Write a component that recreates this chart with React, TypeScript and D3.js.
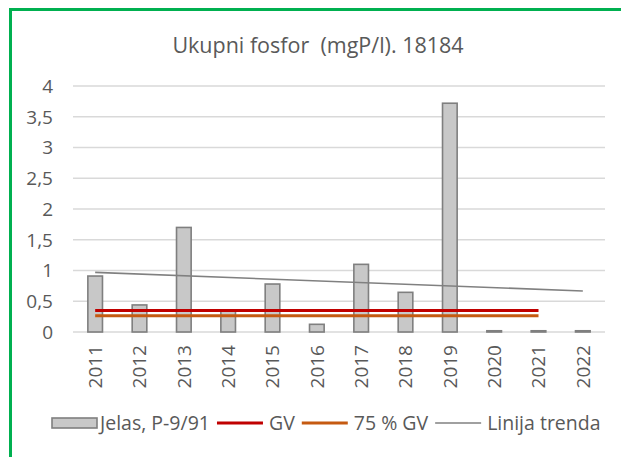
import React, { useRef, useEffect } from "react";
import * as d3 from "d3";

// data
const years = ["2011", "2012", "2013", "2014", "2015", "2016", "2017", "2018", "2019", "2020", "2021", "2022"];
const jelas = [0.91, 0.44, 1.7, 0.34, 0.78, 0.125, 1.1, 0.645, 3.72, 0.02, 0.02, 0.02];
const gvYears = ["2011", "2012", "2013", "2014", "2015", "2016", "2017", "2018", "2019", "2020", "2021"];
const gv = 0.35;
const gv75 = 0.2625;
const yTicks = [0, 0.5, 1, 1.5, 2, 2.5, 3, 3.5, 4];
const title = "Ukupni fosfor  (mgP/l). 18184";
const legendLabels = ["Jelas, P-9/91", "GV", "75 % GV", "Linija trenda"];

const FONT = "'Open Sans', sans-serif";
const TEXT = "#595959";

export default function App() {
  const ref = useRef<SVGSVGElement>(null);

  useEffect(() => {
    const svg = d3.select(ref.current);
    svg.selectAll("*").remove();

    const margin = { top: 86, left: 73, right: 16, bottom: 125 };
    const W = 621, H = 457;

    // green frame
    svg.append("rect")
      .attr("x", 10.5).attr("y", 9.5)
      .attr("width", 700).attr("height", 600)
      .attr("fill", "white")
      .attr("stroke", "#00b050").attr("stroke-width", 3);

    svg.append("text")
      .attr("x", 318).attr("y", 53)
      .attr("text-anchor", "middle")
      .style("font", `21.5px ${FONT}`)
      .attr("fill", TEXT)
      .attr("xml:space", "preserve")
      .text(title);

    const x = d3.scaleBand().domain(years).range([margin.left, W - margin.right]).paddingInner(0).paddingOuter(0);
    const y = d3.scaleLinear().domain([0, 4]).range([H - margin.bottom, margin.top]);
    const cx = (d: string) => (x(d) as number) + x.bandwidth() / 2;

    // gridlines + y labels
    const grid = svg.append("g");
    yTicks.forEach((t) => {
      grid.append("line")
        .attr("x1", margin.left).attr("x2", W - margin.right)
        .attr("y1", y(t)).attr("y2", y(t))
        .attr("stroke", "#d9d9d9").attr("stroke-width", 1.3);
      grid.append("text")
        .attr("x", 53).attr("y", y(t))
        .attr("dy", "0.36em")
        .attr("text-anchor", "end")
        .style("font", `19px ${FONT}`)
        .attr("fill", TEXT)
        .text(d3.format("")(t).replace(".", ","));
    });

    // bars
    const bw = x.bandwidth() * 0.33;
    svg.append("g").selectAll("rect").data(jelas).join("rect")
      .attr("x", (d, i) => cx(years[i]) - bw / 2)
      .attr("y", (d) => y(d))
      .attr("width", bw)
      .attr("height", (d) => y(0) - y(d))
      .attr("fill", "#c8c8c8")
      .attr("stroke", "#7f7f7f").attr("stroke-width", 1.6);

    // GV lines
    const line = d3.line<[string, number]>().x((d) => cx(d[0])).y((d) => y(d[1]));
    svg.append("path")
      .attr("d", line(gvYears.map((yr) => [yr, gv])))
      .attr("fill", "none").attr("stroke", "#c00000").attr("stroke-width", 3);
    svg.append("path")
      .attr("d", line(gvYears.map((yr) => [yr, gv75])))
      .attr("fill", "none").attr("stroke", "#c55a11").attr("stroke-width", 3);

    // linear trend over the bars
    const n = jelas.length;
    const mx = d3.mean(d3.range(n)) as number;
    const my = d3.mean(jelas) as number;
    const slope = d3.sum(jelas, (v, i) => (i - mx) * (v - my)) / d3.sum(d3.range(n), (i) => (i - mx) ** 2);
    const trend = (i: number) => my + slope * (i - mx);
    svg.append("path")
      .attr("d", line([[years[0], trend(0)], [years[n - 1], trend(n - 1)]]))
      .attr("fill", "none").attr("stroke", "#808080").attr("stroke-width", 1.6);

    // x labels
    svg.append("g").selectAll("text").data(years).join("text")
      .attr("transform", (d) => `translate(${cx(d)},${y(0) + 13}) rotate(-90)`)
      .attr("text-anchor", "end")
      .attr("dy", "0.36em")
      .style("font", `19px ${FONT}`)
      .attr("fill", TEXT)
      .text((d) => d);

    // legend
    const lg = svg.append("g").style("font", `19.5px ${FONT}`);
    const ly = 423;
    let lx = 52;
    legendLabels.forEach((label, i) => {
      if (i === 0) {
        lg.append("rect")
          .attr("x", lx).attr("y", ly - 5).attr("width", 45).attr("height", 10)
          .attr("fill", "#c8c8c8").attr("stroke", "#7f7f7f").attr("stroke-width", 1.6);
      } else {
        const col = ["", "#c00000", "#c55a11", "#808080"][i];
        lg.append("line")
          .attr("x1", lx).attr("x2", lx + 46).attr("y1", ly).attr("y2", ly)
          .attr("stroke", col).attr("stroke-width", i === 3 ? 1.6 : 3);
      }
      const t = lg.append("text")
        .attr("x", lx + (i === 0 ? 48 : 52)).attr("y", ly).attr("dy", "0.36em")
        .attr("fill", TEXT).text(label);
      const w = (t.node() as SVGTextElement).getComputedTextLength();
      lx = lx + (i === 0 ? 48 : 52) + w + 7;
    });
  }, []);

  return (
    <div style={{ position: "absolute", left: 0, top: 0 }}>
      <svg ref={ref} width={621} height={457} style={{ display: "block" }} />
    </div>
  );
}
